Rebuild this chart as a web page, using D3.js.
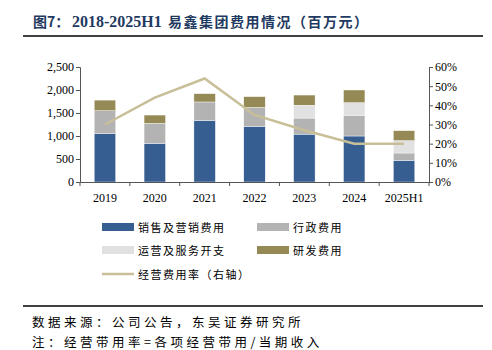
<!DOCTYPE html>
<html>
<head>
<meta charset="utf-8">
<script src="https://cdn.jsdelivr.net/npm/d3@7"></script>
<style>
  body { margin: 0; background: #fff; }
  svg text { font-family: "Liberation Serif", "Times New Roman", serif; }
  .cn { font-family: "Noto Sans CJK SC", sans-serif; }
</style>
</head>
<body>
<div id="container"></div>
<script>
let years = ["2019", "2020", "2021", "2022", "2023", "2024", "2025H1"];
let seriesNames = ["销售及营销费用", "行政费用", "运营及服务开支", "研发费用"];
let selling = [1050, 840, 1340, 1210, 1040, 1000, 470];
let admin = [500, 435, 400, 410, 350, 450, 160];
let operating = [0, 0, 0, 0, 280, 275, 270];
let rnd = [230, 180, 180, 235, 220, 275, 215];
let ratio = [0.30, 0.44, 0.54, 0.35, 0.27, 0.20, 0.20];
let lineName = "经营费用率（右轴）";
let leftTicks = [0, 500, 1000, 1500, 2000, 2500];
let rightTicks = [0, 0.1, 0.2, 0.3, 0.4, 0.5, 0.6];

let colors = ["#375E91", "#B3B3B3", "#E1E1E1", "#958A55"];
let lineColor = "#C8BF98";

let w = 492;
let h = 350;

let viz = d3.select("#container")
  .append("svg")
    .attr("width", w)
    .attr("height", h)
    .style("background-color", "white")
;

// title
viz.append("text")
    .attr("class", "cn")
    .attr("x", 33)
    .attr("y", 27)
    .attr("fill", "#1F3A60")
    .style("font-size", "14px")
    .style("font-weight", "bold")
    .text("图7：")
;
viz.append("text")
    .attr("x", 72)
    .attr("y", 27)
    .attr("fill", "#1F3A60")
    .style("font-size", "16px")
    .style("font-weight", "bold")
    .text("2018-2025H1")
;
viz.append("text")
    .attr("class", "cn")
    .attr("x", 168)
    .attr("y", 27)
    .attr("fill", "#1F3A60")
    .style("font-size", "14px")
    .style("font-weight", "bold")
    .style("letter-spacing", "1.5px")
    .text("易鑫集团费用情况（百万元）")
;

viz.append("line").attr("x1", 23).attr("x2", 483).attr("y1", 36).attr("y2", 36)
    .attr("stroke", "black").attr("stroke-width", 1.5);
viz.append("line").attr("x1", 23).attr("x2", 483).attr("y1", 306).attr("y2", 306)
    .attr("stroke", "black").attr("stroke-width", 1.5);

let xScale = d3.scaleBand().domain(years).range([80, 429]).paddingInner(0.57).paddingOuter(0.285);
let yScale = d3.scaleLinear().domain([0, 2500]).range([182, 67]);
let rScale = d3.scaleLinear().domain([0, 0.6]).range([182, 67]);

// stacked bars
let table = years.map(function(y, i){
    return {year: y, s0: selling[i], s1: admin[i], s2: operating[i], s3: rnd[i]};
});
let stack = d3.stack().keys(["s0", "s1", "s2", "s3"]);
let layers = stack(table);

let layerGroups = viz.selectAll(".layer").data(layers).enter()
  .append("g")
    .classed("layer", true)
    .attr("fill", function(d, i){ return colors[i]; })
;
layerGroups.selectAll("rect").data(function(d){ return d; }).enter()
  .append("rect")
    .attr("x", function(d){ return xScale(d.data.year); })
    .attr("width", xScale.bandwidth())
    .attr("y", function(d){ return yScale(d[1]); })
    .attr("height", function(d){ return Math.max(0, yScale(d[0]) - yScale(d[1])); })
    .attr("stroke", "white")
    .attr("stroke-width", 0.4)
;

// axes
let leftAxis = d3.axisLeft(yScale).tickValues(leftTicks).tickSize(4).tickFormat(d3.format(","));
let gl = viz.append("g").attr("transform", "translate(80,0)").call(leftAxis);
let rightAxis = d3.axisRight(rScale).tickValues(rightTicks).tickSize(4).tickFormat(d3.format(".0%"));
let gr = viz.append("g").attr("transform", "translate(429,0)").call(rightAxis);
let bottomAxis = d3.axisBottom(xScale).tickSize(4).tickSizeOuter(0);
let gb = viz.append("g").attr("transform", "translate(0,182)").call(bottomAxis);
gb.selectAll(".tick line").attr("transform", "translate(" + (-xScale.step() / 2) + ",0)");
gb.append("line").attr("x1", 429).attr("x2", 429).attr("y1", 0).attr("y2", 4).attr("stroke", "#555");

[gl, gr, gb].forEach(function(g){
    g.selectAll(".domain").attr("stroke", "#555");
    g.selectAll(".tick line").attr("stroke", "#555");
    g.selectAll("text").attr("fill", "black").style("font-size", "12px")
        .style("font-family", "'Liberation Serif', serif");
});
gb.selectAll("text").attr("dy", "1.1em");
gl.selectAll("text").attr("x", -6);
gr.selectAll("text").attr("x", 6);

// line
let line = d3.line()
    .x(function(d, i){ return xScale(years[i]) + xScale.bandwidth() / 2; })
    .y(function(d){ return rScale(d); });
viz.append("path")
    .datum(ratio)
    .attr("d", line)
    .attr("fill", "none")
    .attr("stroke", lineColor)
    .attr("stroke-width", 2.5)
;

// legend
let legendItems = [
    {name: seriesNames[0], color: colors[0], x: 102, y: 227, type: "rect"},
    {name: seriesNames[1], color: colors[1], x: 257, y: 227, type: "rect"},
    {name: seriesNames[2], color: colors[2], x: 102, y: 250, type: "rect"},
    {name: seriesNames[3], color: colors[3], x: 257, y: 250, type: "rect"},
    {name: lineName, color: lineColor, x: 102, y: 274, type: "line"}
];
let lg = viz.selectAll(".legend").data(legendItems).enter()
  .append("g")
    .classed("legend", true)
    .attr("transform", function(d){ return "translate(" + d.x + "," + d.y + ")"; })
;
lg.filter(function(d){ return d.type == "rect"; }).append("rect")
    .attr("x", 0).attr("y", -4).attr("width", 32).attr("height", 8)
    .attr("fill", function(d){ return d.color; })
;
lg.filter(function(d){ return d.type == "line"; }).append("line")
    .attr("x1", 0).attr("x2", 32).attr("y1", 0).attr("y2", 0)
    .attr("stroke", function(d){ return d.color; }).attr("stroke-width", 2.5)
;
lg.append("text")
    .attr("class", "cn")
    .attr("x", 36)
    .attr("y", 0)
    .attr("dominant-baseline", "central")
    .style("font-size", "11px")
    .style("letter-spacing", "1.5px")
    .text(function(d){ return d.name; })
;

// footnotes
viz.append("text").attr("class", "cn").attr("x", 32).attr("y", 327)
    .style("font-size", "12.5px").style("letter-spacing", "3.5px")
    .text("数据来源：公司公告，东吴证券研究所");
viz.append("text").attr("class", "cn").attr("x", 32).attr("y", 347)
    .style("font-size", "12.5px").style("letter-spacing", "3.5px")
    .text("注：经营带用率=各项经营带用/当期收入");
</script>
</body>
</html>
